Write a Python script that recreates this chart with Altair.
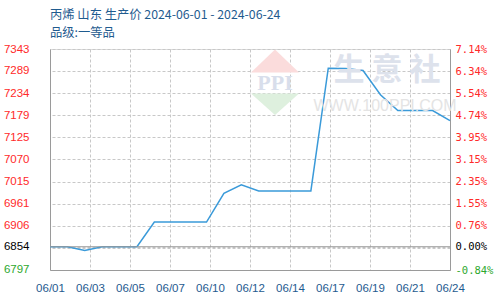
import json
import altair as alt
import pandas as pd

# ---------------- data ----------------
days = [1, 2, 3, 4, 5, 6, 7, 8, 9, 10, 11, 12, 13, 14, 15, 16, 17, 18, 19, 20, 21, 22, 23, 24]
prices = [6854, 6854, 6845, 6854, 6854, 6854, 6915, 6915, 6915, 6915, 6986, 7007,
          6992, 6992, 6992, 6992, 7296, 7295, 7290, 7230, 7191, 7191, 7191, 7166]
base_price = 6854

left_tick_values = [6797, 6854, 6906, 6961, 7015, 7070, 7125, 7179, 7234, 7289, 7343]
right_pcts = [-0.84, -0.04, 0.00, 0.76, 1.55, 2.35, 3.15, 3.95, 4.74, 5.54, 6.34, 7.14]
right_labels = ["-0.84%", "", "0.00%", "0.76%", "1.55%", "2.35%", "3.15%", "3.95%",
                "4.74%", "5.54%", "6.34%", "7.14%"]
x_tick_pos = [1, 3.3, 5.6, 7.9, 10.2, 12.5, 14.8, 17.1, 19.4, 21.7, 24]
x_tick_labels = ["06/01", "06/03", "06/05", "06/07", "06/10", "06/12", "06/14",
                 "06/17", "06/19", "06/21", "06/24"]
title_line1 = "丙烯 山东 生产价 2024-06-01 - 2024-06-24"
title_line2 = "品级:一等品"
wm_main = "生  意  社"
wm_site = "WWW.100PPI.COM"
wm_logo = "PPI"

# ---------------- helpers ----------------
RED = "#ff2a2a"
GREEN = "#2ea82e"
BLUE_TXT = "#1f5b8f"
LINE = "#3a9ad9"
GRID = "#c8c8c8"
AXIS = "#9a9a9a"


def lookup_expr(vals, labels):
    return ("[" + ",".join(json.dumps(l) for l in labels) + "][indexof(["
            + ",".join(repr(float(v)) for v in vals) + "], datum.value)]")


right_vals = [base_price * (1 + p / 100) for p in right_pcts]
y_domain = [right_vals[0], right_vals[-1]]

label_color = {
    "condition": [
        {"test": f"datum.value > {base_price + 0.5}", "value": RED},
        {"test": f"datum.value < {base_price - 0.5}", "value": GREEN},
    ],
    "value": "#000000",
}

df = pd.DataFrame({"day": days, "price": prices})
yscale = alt.Scale(domain=y_domain, nice=False, zero=False)

line = alt.Chart(df).mark_line(color=LINE, strokeWidth=1.5).encode(
    x=alt.X("day:Q",
            scale=alt.Scale(domain=[days[0], days[-1]], nice=False, zero=False),
            axis=alt.Axis(values=x_tick_pos,
                          labelExpr=lookup_expr(x_tick_pos, x_tick_labels),
                          grid=True, gridColor=GRID, gridDash=[3, 2],
                          ticks=False, domainColor=AXIS, labelColor=BLUE_TXT,
                          labelFont="Liberation Sans", labelFontSize=11.5,
                          labelPadding=12, labelFlush=False, labelOverlap=False,
                          title=None)),
    y=alt.Y("price:Q", scale=yscale,
            axis=alt.Axis(values=left_tick_values, format="d", grid=False,
                          ticks=False, domainColor=AXIS, labelColor=label_color,
                          labelFont="Liberation Sans", labelFontSize=11.5,
                          labelPadding=21, labelOverlap=False, orient="left",
                          title=None)),
)

base_df = pd.DataFrame({"base": [base_price]})
baseline = alt.Chart(base_df).mark_rule(color=AXIS, strokeWidth=1).encode(
    y=alt.Y("base:Q", scale=yscale,
            axis=alt.Axis(values=right_vals,
                          labelExpr=lookup_expr(right_vals, right_labels),
                          grid=True, gridColor=GRID, gridDash=[3, 2],
                          ticks=False, domainColor=AXIS, labelColor=label_color,
                          labelFont="DejaVu Sans Mono", labelFontSize=10.5,
                          labelPadding=5, labelOverlap=False, orient="right",
                          title=None)),
)

one = pd.DataFrame({"t": [0]})

tri_up = alt.Chart(one).mark_point(
    shape="M-1,0L1,0L0,-0.96Z", filled=True, color="#fbdcdc", opacity=1,
    size=2304, strokeWidth=0).encode(x=alt.value(225), y=alt.value(23.5))
tri_dn = alt.Chart(one).mark_point(
    shape="M-1,0L1,0L0,0.9Z", filled=True, color="#def0de", opacity=1,
    size=2304, strokeWidth=0).encode(x=alt.value(225), y=alt.value(44.5))

wm1 = alt.Chart(pd.DataFrame({"t": [wm_main]})).mark_text(
    font="Noto Sans CJK SC", fontSize=31, fontWeight="bold", color="#dde2ec",
    align="center", baseline="middle").encode(
    text="t:N", x=alt.value(337), y=alt.value(22))
wm2 = alt.Chart(pd.DataFrame({"t": [wm_site]})).mark_text(
    font="Liberation Sans", fontSize=16, color="#e4e4e4",
    align="center", baseline="middle").encode(
    text="t:N", x=alt.value(335), y=alt.value(57))
wm3 = alt.Chart(pd.DataFrame({"t": [wm_logo]})).mark_text(
    font="Liberation Serif", fontSize=22, fontWeight="bold", color="#d8deeb",
    align="center", baseline="middle").encode(
    text="t:N", x=alt.value(225), y=alt.value(34))

title = alt.Chart(pd.DataFrame({"t": [title_line1 + "\n" + title_line2]})).mark_text(
    font="Noto Sans CJK SC", fontSize=12.3, color=BLUE_TXT, lineBreak="\n",
    lineHeight=18, align="left", baseline="alphabetic").encode(
    text="t:N", x=alt.value(0), y=alt.value(-30))

chart = alt.layer(
    line, baseline, tri_up, tri_dn, wm1, wm2, wm3, title
).resolve_axis(y="independent").properties(
    width=400, height=221,
    autosize=alt.AutoSizeParams(type="none"),
    padding={"left": 50, "top": 49, "right": 50, "bottom": 30},
).configure_view(strokeWidth=0).configure(background="white")

chart.save("out.html", embed_options={"renderer": "svg", "actions": False})
